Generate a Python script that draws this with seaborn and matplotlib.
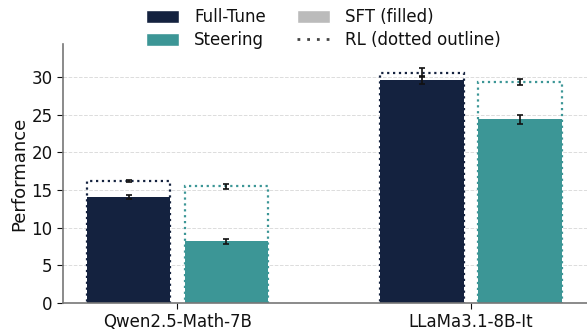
import matplotlib
matplotlib.use("Agg")
import matplotlib.pyplot as plt
from matplotlib.patches import Patch
from matplotlib.lines import Line2D
import numpy as np
import pandas as pd
import seaborn as sns

# Data
models = ["Qwen2.5-Math-7B", "LLaMa3.1-8B-It"]
methods = ["Full-Tune", "Steering"]
sft_full = [14.1, 29.6]
sft_steer = [8.2, 24.4]
sft_full_err = [0.3, 0.5]
sft_steer_err = [0.35, 0.6]
rl_full = [16.2, 30.6]
rl_steer = [15.5, 29.3]
rl_full_err = [0.15, 0.6]
rl_steer_err = [0.3, 0.4]

colors = {"Full-Tune": "#14223f", "Steering": "#3c9696"}

sft = pd.DataFrame({
    "model": models * 2,
    "method": ["Full-Tune"] * 2 + ["Steering"] * 2,
    "score": sft_full + sft_steer,
    "err": sft_full_err + sft_steer_err,
})
rl = pd.DataFrame({
    "model": models * 2,
    "method": ["Full-Tune"] * 2 + ["Steering"] * 2,
    "score": rl_full + rl_steer,
    "err": rl_full_err + rl_steer_err,
})

sns.set_theme(style="white")
plt.rcParams["font.family"] = ["DejaVu Sans"]

fig = plt.figure(figsize=(5.87, 3.32), dpi=100)
ax = fig.add_axes([63 / 587, 29 / 332, 524 / 587, 259 / 332])

bar_kw = dict(x="model", y="score", hue="method", order=models,
              hue_order=methods, palette=colors, saturation=1,
              width=0.667, gap=0.145, errorbar=None, legend=False, ax=ax)

# SFT results as filled bars
sns.barplot(data=sft, linewidth=0, **bar_kw)
n_sft = len(ax.containers)
# RL results as dotted outlines
sns.barplot(data=rl, fill=False, linestyle=":", linewidth=1.6, **bar_kw)

# Error bars at the bar centres
for frame, conts in ((sft, ax.containers[:n_sft]), (rl, ax.containers[n_sft:])):
    for method, cont in zip(methods, conts):
        sub = frame[frame["method"] == method].set_index("model").loc[models]
        xs = [p.get_x() + p.get_width() / 2 for p in cont.patches]
        ax.errorbar(xs, sub["score"], yerr=sub["err"], fmt="none",
                    ecolor="#111111", elinewidth=1.2, capsize=2.5,
                    capthick=1.2, zorder=5)

ax.set_ylim(0, 34.4)
ax.set_xlim(-0.39, 1.395)
ax.set_yticks(range(0, 31, 5))
ax.yaxis.grid(True, linestyle="--", color="#dcdcdc", linewidth=0.7)
ax.set_axisbelow(True)
ax.set_xlabel("")
ax.set_ylabel("Performance", fontsize=13, color="#111111", labelpad=2)
ax.tick_params(axis="both", labelsize=12, length=4, width=0.8,
               colors="#111111", left=True, bottom=True)
for side in ("top", "right"):
    ax.spines[side].set_visible(False)
for side in ("left", "bottom"):
    ax.spines[side].set_color("#777777")
    ax.spines[side].set_linewidth(1.2)

handles = [
    Patch(facecolor=colors["Full-Tune"], label="Full-Tune"),
    Patch(facecolor=colors["Steering"], label="Steering"),
    Patch(facecolor="#bbbbbb", label="SFT (filled)"),
    Line2D([0], [0], color="#444444", linestyle=(0, (1, 2.5)), linewidth=2,
           label="RL (dotted outline)"),
]
leg = fig.legend(handles=handles, ncol=2, loc="upper center",
                 bbox_to_anchor=(0.551, 1.02), frameon=False, fontsize=12,
                 handlelength=2.0, handleheight=0.8, handletextpad=0.9,
                 columnspacing=1.85, labelspacing=0.3)
for t in leg.get_texts():
    t.set_color("#111111")

fig.savefig("out.png", dpi=100)
